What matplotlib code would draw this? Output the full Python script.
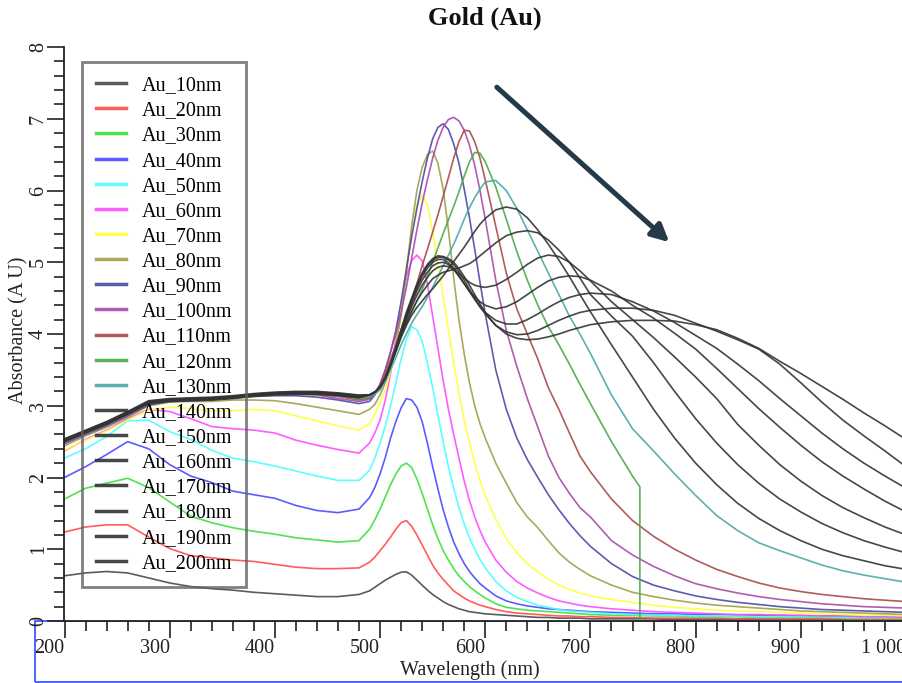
import matplotlib
matplotlib.use("Agg")
import matplotlib.pyplot as plt
from matplotlib.patches import Rectangle
from matplotlib.ticker import MultipleLocator

plt.rcParams["font.family"] = ["Liberation Serif", "DejaVu Serif"]

# Wavelength grid (nm): coarse in the UV and NIR, fine across the plasmon band
wavelength = [200, 220, 240, 260, 280, 300, 320, 340, 360, 380, 400, 420, 440, 460, 480,
              490, 495, 500, 505, 510, 515, 520, 525, 530, 535, 540, 545, 550, 555, 560,
              565, 570, 575, 580, 585, 590, 595, 600,
              610, 620, 630, 640, 650, 660, 670, 680, 690, 700,
              720, 740, 760, 780, 800, 820, 840, 860, 880, 900, 920, 940, 960, 980, 1000]

# The 120 nm record stops at 747 nm and falls to zero
wavelength_120 = [200, 220, 240, 260, 280, 300, 320, 340, 360, 380, 400, 420, 440, 460, 480,
                  490, 495, 500, 505, 510, 515, 520, 525, 530, 535, 540, 545, 550, 555, 560,
                  565, 570, 575, 580, 585, 590, 595, 600,
                  610, 620, 630, 640, 650, 660, 670, 680, 690, 700,
                  720, 740, 747, 747, 760, 780, 800, 820, 840, 860, 880, 900, 920, 940, 960, 980, 1000]

au_10 = [0.63, 0.67, 0.69, 0.67, 0.60, 0.53, 0.48, 0.45, 0.43, 0.40, 0.38, 0.36, 0.34, 0.34, 0.37,
         0.42, 0.47, 0.52, 0.57, 0.61, 0.65, 0.68, 0.685, 0.64, 0.57, 0.50, 0.43, 0.37, 0.32, 0.27,
         0.23, 0.20, 0.17, 0.15, 0.13, 0.12, 0.11, 0.10,
         0.09, 0.08, 0.07, 0.06, 0.05, 0.05, 0.04, 0.04, 0.04, 0.03,
         0.03, 0.03, 0.03, 0.02, 0.02, 0.02, 0.02, 0.02, 0.02, 0.02, 0.02, 0.02, 0.01, 0.01, 0.01]
au_20 = [1.24, 1.31, 1.34, 1.34, 1.17, 1.01, 0.91, 0.88, 0.85, 0.83, 0.79, 0.75, 0.73, 0.73, 0.74,
         0.82, 0.89, 0.98, 1.07, 1.17, 1.28, 1.37, 1.40, 1.32, 1.20, 1.06, 0.92, 0.78, 0.67, 0.58,
         0.50, 0.42, 0.37, 0.32, 0.28, 0.25, 0.22, 0.20,
         0.16, 0.13, 0.11, 0.10, 0.09, 0.08, 0.07, 0.07, 0.06, 0.06,
         0.05, 0.05, 0.04, 0.04, 0.04, 0.04, 0.03, 0.03, 0.03, 0.03, 0.03, 0.03, 0.02, 0.02, 0.02]
au_30 = [1.70, 1.85, 1.92, 1.99, 1.86, 1.66, 1.46, 1.37, 1.30, 1.25, 1.21, 1.16, 1.13, 1.10, 1.12,
         1.28, 1.41, 1.56, 1.73, 1.90, 2.05, 2.16, 2.20, 2.14, 1.98, 1.78, 1.56, 1.34, 1.15, 0.98,
         0.85, 0.73, 0.63, 0.55, 0.48, 0.42, 0.37, 0.32,
         0.24, 0.19, 0.17, 0.15, 0.14, 0.13, 0.12, 0.11, 0.10, 0.09,
         0.08, 0.08, 0.07, 0.07, 0.06, 0.06, 0.06, 0.05, 0.05, 0.05, 0.05, 0.04, 0.04, 0.04, 0.04]
au_40 = [2.00, 2.15, 2.32, 2.50, 2.40, 2.18, 2.02, 1.93, 1.81, 1.76, 1.71, 1.61, 1.54, 1.51, 1.56,
         1.72, 1.86, 2.05, 2.28, 2.55, 2.78, 2.97, 3.10, 3.08, 2.98, 2.78, 2.48, 2.15, 1.84, 1.55,
         1.31, 1.10, 0.94, 0.80, 0.69, 0.60, 0.52, 0.46,
         0.35, 0.28, 0.24, 0.21, 0.19, 0.17, 0.16, 0.15, 0.14, 0.13,
         0.12, 0.11, 0.10, 0.10, 0.09, 0.09, 0.08, 0.08, 0.08, 0.07, 0.07, 0.07, 0.06, 0.06, 0.06]
au_50 = [2.27, 2.40, 2.57, 2.79, 2.80, 2.64, 2.53, 2.38, 2.27, 2.22, 2.16, 2.09, 2.02, 1.96, 1.96,
         2.10, 2.27, 2.48, 2.72, 3.00, 3.32, 3.65, 3.92, 4.10, 4.06, 3.90, 3.60, 3.25, 2.87, 2.50,
         2.15, 1.85, 1.58, 1.35, 1.16, 1.00, 0.86, 0.74,
         0.55, 0.42, 0.33, 0.27, 0.22, 0.19, 0.16, 0.14, 0.13, 0.12,
         0.10, 0.09, 0.08, 0.08, 0.07, 0.07, 0.07, 0.06, 0.06, 0.06, 0.06, 0.05, 0.05, 0.05, 0.05]
au_60 = [2.37, 2.53, 2.66, 2.82, 2.95, 2.92, 2.82, 2.71, 2.68, 2.66, 2.62, 2.52, 2.45, 2.39, 2.34,
         2.48, 2.62, 2.80, 3.08, 3.45, 3.92, 4.40, 4.80, 5.02, 5.10, 5.02, 4.70, 4.25, 3.80, 3.35,
         2.95, 2.60, 2.27, 1.95, 1.68, 1.45, 1.26, 1.10,
         0.85, 0.68, 0.55, 0.46, 0.39, 0.33, 0.28, 0.25, 0.22, 0.20,
         0.17, 0.15, 0.13, 0.12, 0.11, 0.10, 0.09, 0.09, 0.08, 0.08, 0.07, 0.07, 0.06, 0.06, 0.05]
au_70 = [2.38, 2.52, 2.65, 2.80, 2.94, 2.98, 2.96, 2.93, 2.93, 2.95, 2.93, 2.86, 2.79, 2.72, 2.66,
         2.75, 2.88, 3.05, 3.22, 3.48, 3.85, 4.35, 4.95, 5.45, 5.80, 5.94, 5.80, 5.42, 4.98, 4.52,
         4.05, 3.60, 3.18, 2.80, 2.48, 2.20, 1.96, 1.75,
         1.42, 1.15, 0.95, 0.80, 0.68, 0.58, 0.50, 0.44, 0.39, 0.35,
         0.30, 0.26, 0.22, 0.19, 0.17, 0.15, 0.14, 0.13, 0.12, 0.11, 0.10, 0.09, 0.08, 0.08, 0.07]
au_80 = [2.44, 2.58, 2.70, 2.84, 3.00, 3.05, 3.06, 3.06, 3.08, 3.08, 3.07, 3.03, 2.98, 2.93, 2.88,
         2.95, 3.02, 3.15, 3.32, 3.55, 3.85, 4.25, 4.85, 5.50, 6.00, 6.32, 6.50, 6.55, 6.38, 6.02,
         5.45, 4.78, 4.20, 3.72, 3.32, 3.00, 2.75, 2.55,
         2.20, 1.92, 1.65, 1.45, 1.30, 1.12, 0.95, 0.82, 0.72, 0.63,
         0.50, 0.40, 0.34, 0.29, 0.25, 0.22, 0.20, 0.18, 0.16, 0.14, 0.13, 0.12, 0.11, 0.10, 0.09]
au_90 = [2.47, 2.60, 2.72, 2.86, 3.01, 3.06, 3.07, 3.08, 3.11, 3.13, 3.14, 3.14, 3.12, 3.08, 3.03,
         3.06, 3.15, 3.30, 3.50, 3.75, 4.05, 4.45, 4.90, 5.35, 5.75, 6.12, 6.45, 6.72, 6.88, 6.93,
         6.85, 6.65, 6.38, 6.02, 5.62, 5.18, 4.72, 4.28,
         3.50, 2.95, 2.55, 2.25, 2.00, 1.76, 1.55, 1.36, 1.19, 1.04,
         0.80, 0.62, 0.50, 0.42, 0.35, 0.30, 0.26, 0.23, 0.20, 0.18, 0.16, 0.15, 0.14, 0.13, 0.12]
au_100 = [2.48, 2.61, 2.73, 2.87, 3.02, 3.07, 3.08, 3.09, 3.11, 3.14, 3.15, 3.16, 3.15, 3.10, 3.06,
          3.09, 3.17, 3.30, 3.50, 3.75, 4.00, 4.30, 4.65, 5.05, 5.45, 5.82, 6.15, 6.45, 6.70, 6.88,
          6.99, 7.02, 6.97, 6.84, 6.63, 6.35, 6.00, 5.60,
          4.75, 4.05, 3.55, 3.10, 2.70, 2.30, 2.00, 1.78, 1.58, 1.45,
          1.12, 0.92, 0.76, 0.63, 0.52, 0.45, 0.39, 0.34, 0.30, 0.27, 0.24, 0.22, 0.20, 0.19, 0.18]
au_110 = [2.49, 2.62, 2.74, 2.88, 3.03, 3.07, 3.08, 3.09, 3.11, 3.14, 3.16, 3.17, 3.16, 3.13, 3.08,
          3.11, 3.18, 3.28, 3.45, 3.65, 3.85, 4.05, 4.26, 4.47, 4.70, 4.95, 5.18, 5.42, 5.66, 5.92,
          6.18, 6.45, 6.68, 6.84, 6.83, 6.68, 6.45, 6.15,
          5.50, 4.85, 4.35, 4.00, 3.65, 3.25, 2.95, 2.62, 2.30, 2.08,
          1.70, 1.40, 1.18, 1.00, 0.85, 0.72, 0.62, 0.53, 0.46, 0.41, 0.37, 0.34, 0.31, 0.29, 0.27]
au_120 = [2.50, 2.62, 2.74, 2.88, 3.03, 3.07, 3.08, 3.09, 3.11, 3.14, 3.16, 3.17, 3.17, 3.14, 3.10,
          3.12, 3.17, 3.25, 3.38, 3.55, 3.75, 3.95, 4.13, 4.30, 4.46, 4.62, 4.80, 5.00, 5.20, 5.40,
          5.59, 5.78, 5.98, 6.20, 6.40, 6.53, 6.52, 6.40,
          6.05, 5.60, 5.15, 4.75, 4.40, 4.10, 3.85, 3.58, 3.30, 3.03,
          2.50, 2.02, 1.87, 0.00, 0.00, 0.00, 0.00, 0.00, 0.00, 0.00, 0.00, 0.00, 0.00, 0.00, 0.00, 0.00, 0.00]
au_130 = [2.51, 2.63, 2.75, 2.89, 3.04, 3.08, 3.09, 3.10, 3.12, 3.15, 3.17, 3.18, 3.17, 3.15, 3.11,
          3.13, 3.16, 3.22, 3.34, 3.50, 3.67, 3.85, 4.00, 4.15, 4.27, 4.38, 4.51, 4.65, 4.80, 4.95,
          5.10, 5.25, 5.42, 5.60, 5.76, 5.90, 6.02, 6.12,
          6.14, 6.00, 5.75, 5.45, 5.15, 4.85, 4.55, 4.25, 4.00, 3.73,
          3.15, 2.68, 2.37, 2.05, 1.75, 1.47, 1.26, 1.09, 0.98, 0.88, 0.78, 0.70, 0.64, 0.59, 0.54]
au_140 = [2.52, 2.64, 2.76, 2.90, 3.05, 3.08, 3.09, 3.10, 3.12, 3.15, 3.17, 3.18, 3.18, 3.16, 3.13,
          3.15, 3.19, 3.26, 3.38, 3.56, 3.76, 3.96, 4.12, 4.26, 4.37, 4.46, 4.55, 4.63, 4.72, 4.81,
          4.91, 5.01, 5.11, 5.21, 5.32, 5.43, 5.53, 5.61,
          5.73, 5.77, 5.74, 5.62, 5.45, 5.25, 5.03, 4.80, 4.55, 4.31,
          3.85, 3.40, 2.95, 2.55, 2.20, 1.90, 1.64, 1.43, 1.26, 1.12, 1.00, 0.91, 0.84, 0.77, 0.72]
au_150 = [2.53, 2.65, 2.77, 2.91, 3.06, 3.09, 3.10, 3.11, 3.13, 3.16, 3.18, 3.19, 3.19, 3.17, 3.14,
          3.15, 3.19, 3.26, 3.38, 3.56, 3.77, 3.98, 4.16, 4.32, 4.46, 4.58, 4.68, 4.77, 4.82, 4.86,
          4.88, 4.90, 4.92, 4.95, 4.98, 5.03, 5.09, 5.15,
          5.27, 5.37, 5.42, 5.44, 5.41, 5.31, 5.17, 5.00, 4.78, 4.55,
          4.25, 3.97, 3.60, 3.20, 2.82, 2.48, 2.18, 1.92, 1.70, 1.52, 1.36, 1.23, 1.12, 1.03, 0.95]
au_160 = [2.51, 2.63, 2.75, 2.89, 3.04, 3.07, 3.08, 3.09, 3.11, 3.14, 3.16, 3.17, 3.17, 3.15, 3.12,
          3.15, 3.19, 3.26, 3.39, 3.57, 3.78, 4.00, 4.20, 4.38, 4.54, 4.68, 4.79, 4.88, 4.93, 4.95,
          4.94, 4.90, 4.84, 4.78, 4.72, 4.68, 4.66, 4.65,
          4.68, 4.76, 4.86, 4.97, 5.06, 5.10, 5.08, 5.00, 4.88, 4.74,
          4.45, 4.20, 3.95, 3.68, 3.40, 3.10, 2.74, 2.45, 2.18, 1.95, 1.75, 1.58, 1.44, 1.31, 1.20]
au_170 = [2.54, 2.66, 2.78, 2.92, 3.07, 3.10, 3.11, 3.12, 3.14, 3.17, 3.19, 3.20, 3.20, 3.18, 3.15,
          3.15, 3.19, 3.26, 3.39, 3.58, 3.79, 4.02, 4.23, 4.42, 4.60, 4.75, 4.86, 4.95, 4.99, 5.00,
          4.97, 4.90, 4.80, 4.70, 4.60, 4.52, 4.45, 4.40,
          4.35, 4.38, 4.45, 4.55, 4.65, 4.74, 4.79, 4.81, 4.80, 4.75,
          4.60, 4.40, 4.22, 4.01, 3.79, 3.52, 3.24, 2.96, 2.70, 2.45, 2.22, 2.02, 1.84, 1.67, 1.52]
au_180 = [2.50, 2.62, 2.74, 2.88, 3.03, 3.06, 3.07, 3.08, 3.10, 3.13, 3.15, 3.16, 3.16, 3.14, 3.11,
          3.15, 3.19, 3.26, 3.39, 3.58, 3.80, 4.04, 4.26, 4.46, 4.64, 4.80, 4.92, 5.00, 5.04, 5.04,
          4.99, 4.92, 4.82, 4.70, 4.59, 4.48, 4.38, 4.30,
          4.19, 4.14, 4.14, 4.20, 4.28, 4.37, 4.45, 4.51, 4.55, 4.57,
          4.55, 4.45, 4.32, 4.16, 3.98, 3.80, 3.58, 3.35, 3.10, 2.86, 2.62, 2.40, 2.20, 2.02, 1.85]
au_190 = [2.53, 2.65, 2.77, 2.91, 3.06, 3.09, 3.10, 3.11, 3.13, 3.16, 3.18, 3.19, 3.19, 3.17, 3.14,
          3.15, 3.19, 3.26, 3.39, 3.58, 3.80, 4.05, 4.28, 4.48, 4.67, 4.83, 4.95, 5.03, 5.07, 5.07,
          5.03, 4.97, 4.87, 4.75, 4.62, 4.50, 4.38, 4.28,
          4.12, 4.03, 3.99, 4.00, 4.05, 4.12, 4.19, 4.25, 4.30, 4.33,
          4.36, 4.36, 4.33, 4.26, 4.15, 4.04, 3.92, 3.79, 3.58, 3.32, 3.05, 2.80, 2.58, 2.37, 2.15]
au_200 = [2.52, 2.64, 2.76, 2.90, 3.05, 3.08, 3.09, 3.10, 3.12, 3.15, 3.17, 3.18, 3.18, 3.16, 3.13,
          3.15, 3.19, 3.26, 3.39, 3.58, 3.81, 4.06, 4.30, 4.50, 4.69, 4.85, 4.97, 5.05, 5.09, 5.08,
          5.05, 5.00, 4.91, 4.80, 4.68, 4.55, 4.42, 4.30,
          4.12, 4.00, 3.94, 3.92, 3.93, 3.96, 4.00, 4.05, 4.09, 4.13,
          4.17, 4.19, 4.19, 4.18, 4.13, 4.06, 3.94, 3.80, 3.62, 3.45, 3.27, 3.09, 2.90, 2.72, 2.53]

labels = ["Au_10nm", "Au_20nm", "Au_30nm", "Au_40nm", "Au_50nm", "Au_60nm", "Au_70nm",
          "Au_80nm", "Au_90nm", "Au_100nm", "Au_110nm", "Au_120nm", "Au_130nm", "Au_140nm",
          "Au_150nm", "Au_160nm", "Au_170nm", "Au_180nm", "Au_190nm", "Au_200nm"]
series = [au_10, au_20, au_30, au_40, au_50, au_60, au_70, au_80, au_90, au_100,
          au_110, au_120, au_130, au_140, au_150, au_160, au_170, au_180, au_190, au_200]
colors = ["#4a4a4a", "#ff4a4a", "#3ce03c", "#4a4aff", "#4affff", "#ff4aff", "#ffff3c",
          "#a0a04a", "#4a4aa8", "#a84aa8", "#a84a4a", "#4aa84a", "#4aa8a8",
          "#333333", "#333333", "#333333", "#333333", "#333333", "#333333", "#333333"]

x_ticks = [200, 300, 400, 500, 600, 700, 800, 900, 1000]
x_tick_labels = ["200", "300", "400", "500", "600", "700", "800", "900", "1 000"]
y_ticks = [0, 1, 2, 3, 4, 5, 6, 7, 8]

# Direction arrow (start, end) in data units
arrow_start = (611, 7.44)
arrow_end = (775, 5.28)

W, H = 903, 683
fig = plt.figure(figsize=(W / 100, H / 100), dpi=100)
ax = fig.add_axes([64.5 / W, 62 / H, 841.5 / W, 574 / H])

for lab, vals, col in zip(labels, series, colors):
    xs = wavelength_120 if lab == "Au_120nm" else wavelength
    ax.plot(xs, vals, color=col, lw=1.2, alpha=0.9, label=lab, solid_joinstyle="round")

ax.set_xlim(200, 1000)
ax.set_ylim(0, 8)
for side in ("top", "right"):
    ax.spines[side].set_visible(False)
for side in ("left", "bottom"):
    ax.spines[side].set_linewidth(1.3)
    ax.spines[side].set_color("#222222")

ax.set_xticks(x_ticks)
ax.set_xticklabels(x_tick_labels)
ax.set_yticks(y_ticks)
ax.xaxis.set_minor_locator(MultipleLocator(20))
ax.yaxis.set_minor_locator(MultipleLocator(0.2))
ax.tick_params(which="major", direction="out", length=12, width=1.2, color="#222222",
               labelsize=14.5, labelcolor="#222222")
ax.tick_params(which="minor", direction="out", length=7, width=1.2, color="#222222")
ax.tick_params(axis="x", which="major", pad=1)
ax.tick_params(axis="y", which="major", pad=0, labelrotation=90)
for t in ax.get_xticklabels():
    t.set_horizontalalignment("right")
for t in ax.get_yticklabels():
    t.set_verticalalignment("center")

ax.set_xlabel("Wavelength (nm)", fontsize=14.5, color="#222222")
ax.xaxis.set_label_coords((470 - 64.5) / 841.5, (621 - 660) / 574)
ax.set_ylabel("Absorbance (A U)", fontsize=14.5, color="#222222")
ax.yaxis.set_label_coords((28 - 64.5) / 841.5, (621 - 330) / 574)
ax.set_title("Gold (Au)", fontsize=19, fontweight="bold", color="#111111",
             y=(621 - 18) / 574, va="center", pad=0)

leg = ax.legend(loc="upper left", bbox_to_anchor=((82 - 64.5) / 841.5, (621 - 62) / 574),
                borderaxespad=0, frameon=True, fancybox=False, fontsize=14.5,
                handlelength=1.5, handletextpad=0.75, labelspacing=0.30, borderpad=0.7)
frame = leg.get_frame()
frame.set_edgecolor("#606060")
frame.set_linewidth(2)
frame.set_facecolor("none")
for h in leg.get_lines():
    h.set_linewidth(2.5)

ax.annotate("", xy=arrow_end, xytext=arrow_start,
            arrowprops=dict(arrowstyle="-|>", color="#233a47", lw=3.6,
                            mutation_scale=26, shrinkA=0, shrinkB=0))

# Blue selection frame around the wavelength axis, drawn beneath the axes
fig.patches.append(Rectangle((35 / W, 1 / H), 1.0, 61 / H, transform=fig.transFigure,
                             fill=False, edgecolor="#1a3cff", lw=1.1, zorder=-1))

fig.savefig("out.png", dpi=100)
